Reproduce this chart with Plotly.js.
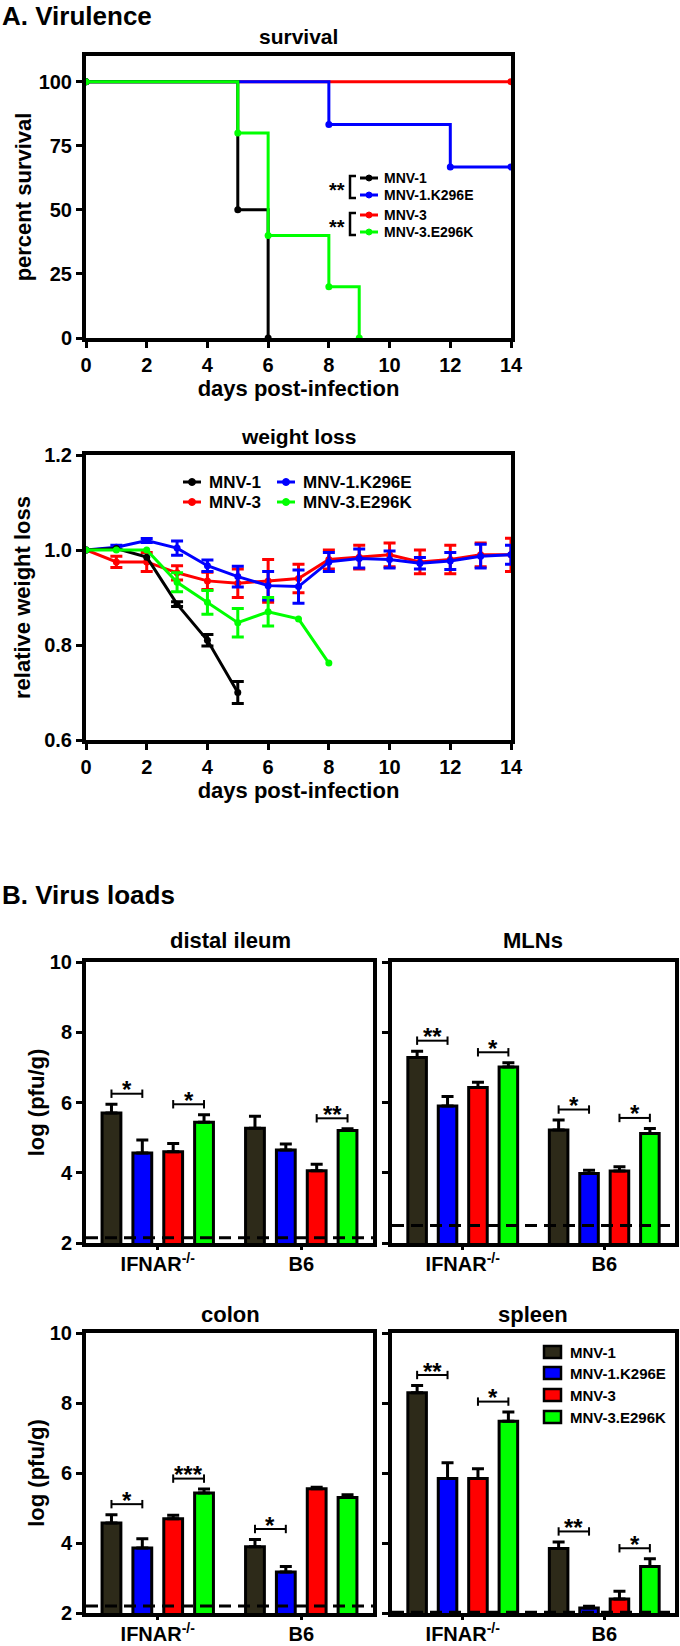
<!DOCTYPE html>
<html><head><meta charset="utf-8">
<script src="https://cdn.plot.ly/plotly-3.0.1.min.js"></script>
<style>html,body{margin:0;padding:0;background:#fff}#chart{width:680px;height:1646px}</style>
</head><body><div id="chart"></div>
<script>
const FONT = 'Liberation Sans, Arial, Helvetica, sans-serif';
const W = 680, H = 1646;

// ---------- shared series names / colours ----------
const strainNames = ['MNV-1', 'MNV-1.K296E', 'MNV-3', 'MNV-3.E296K'];
const lineColors = ['#000000', '#0000ff', '#ff0000', '#00ff00'];
const barColors = ['#2d2a19', '#0000ff', '#ff0000', '#00ff00'];

// ---------- A. survival ----------
const survDaysMNV1 = [0, 5, 6];
const survPctMNV1 = [100, 50, 0];
const survDaysK296E = [0, 8, 12, 14];
const survPctK296E = [100, 83.3, 66.7, 66.7];
const survDaysMNV3 = [0, 14];
const survPctMNV3 = [100, 100];
const survDaysE296K = [0, 5, 6, 8, 9];
const survPctE296K = [100, 80, 40, 20, 0];
const dayTicks = [0, 2, 4, 6, 8, 10, 12, 14];
const survTicks = [0, 25, 50, 75, 100];

// ---------- A. weight loss ----------
const wDaysMNV1 = [0, 1, 2, 3, 4, 5];
const wMeanMNV1 = [1.0, 1.003, 0.985, 0.886, 0.81, 0.70];
const wErrMNV1 = [0, 0, 0, 0.005, 0.012, 0.023];
const wDaysK296E = [0, 1, 2, 3, 4, 5, 6, 7, 8, 9, 10, 11, 12, 13, 14];
const wMeanK296E = [1.0, 1.006, 1.02, 1.004, 0.967, 0.944, 0.925, 0.923, 0.975, 0.982, 0.98, 0.972, 0.977, 0.987, 0.99];
const wErrK296E = [0, 0.004, 0.004, 0.015, 0.012, 0.022, 0.03, 0.035, 0.02, 0.02, 0.018, 0.012, 0.018, 0.025, 0.02];
const wDaysMNV3 = [0, 1, 2, 3, 4, 5, 6, 7, 8, 9, 10, 11, 12, 13, 14];
const wMeanMNV3 = [1.0, 0.975, 0.975, 0.952, 0.935, 0.93, 0.935, 0.94, 0.98, 0.985, 0.99, 0.975, 0.98, 0.99, 0.99];
const wErrMNV3 = [0, 0.012, 0.02, 0.015, 0.018, 0.03, 0.045, 0.03, 0.02, 0.025, 0.025, 0.025, 0.03, 0.025, 0.035];
const wDaysE296K = [0, 1, 2, 3, 4, 5, 6, 7, 8];
const wMeanE296K = [1.0, 1.0, 1.0, 0.932, 0.89, 0.847, 0.87, 0.855, 0.762];
const wErrE296K = [0, 0, 0, 0.02, 0.025, 0.03, 0.03, 0, 0];
const weightTicks = [0.6, 0.8, 1.0, 1.2];

// ---------- B. virus loads (order: MNV-1, MNV-1.K296E, MNV-3, MNV-3.E296K) ----------
const mouseGroups = ['IFNAR<sup>-/-</sup>', 'B6'];
const tissues = ['distal ileum', 'MLNs', 'colon', 'spleen'];
const logTicks = [2, 4, 6, 8, 10];

const ileumIFNAR = [5.70, 4.56, 4.60, 5.44];
const ileumIFNARerr = [0.25, 0.37, 0.23, 0.21];
const ileumB6 = [5.27, 4.65, 4.06, 5.20];
const ileumB6err = [0.34, 0.17, 0.18, 0.05];

const mlnIFNAR = [7.28, 5.90, 6.43, 7.01];
const mlnIFNARerr = [0.18, 0.27, 0.15, 0.12];
const mlnB6 = [5.22, 3.98, 4.05, 5.12];
const mlnB6err = [0.28, 0.09, 0.12, 0.14];

const colonIFNAR = [4.57, 3.86, 4.69, 5.43];
const colonIFNARerr = [0.24, 0.26, 0.10, 0.11];
const colonB6 = [3.89, 3.17, 5.55, 5.30];
const colonB6err = [0.21, 0.16, 0.04, 0.08];

const spleenIFNAR = [8.29, 5.84, 5.84, 7.48];
const spleenIFNARerr = [0.21, 0.45, 0.28, 0.26];
const spleenB6 = [3.84, 2.14, 2.40, 3.33];
const spleenB6err = [0.19, 0.05, 0.22, 0.22];

// detection limits (dashed lines)
const detectionLimits = [2.15, 2.5, 2.2, 2.02];

// significance: [group index, bar a, bar b, label]
const sigIleum = [[0, 0, 1, '*'], [0, 2, 3, '*'], [1, 2, 3, '**']];
const sigMLN = [[0, 0, 1, '**'], [0, 2, 3, '*'], [1, 0, 1, '*'], [1, 2, 3, '*']];
const sigColon = [[0, 0, 1, '*'], [0, 2, 3, '***'], [1, 0, 1, '*']];
const sigSpleen = [[0, 0, 1, '**'], [0, 2, 3, '*'], [1, 0, 1, '**'], [1, 2, 3, '*']];

// survival legend comparisons (log-rank): [first strain, second strain, label]
const survSig = [[0, 1, '**'], [2, 3, '**']];

// ---------- helpers ----------
const P = x => x / W;
const Q = y => 1 - y / H;
const nanZero = a => a.map(v => v === 0 ? NaN : v);
const bold = (size) => ({family: FONT, size: size, color: '#000', weight: 'bold'});

function axis(extra) {
  return Object.assign({
    showline: true, mirror: true, linecolor: '#000', linewidth: 4,
    ticks: 'outside', ticklen: 6, tickwidth: 3, tickcolor: '#000',
    showgrid: false, zeroline: false, fixedrange: true,
    tickfont: bold(20)
  }, extra);
}

const traces = [];
const shapes = [];
const annotations = [];

// survival traces (draw order: MNV-3, K296E, MNV-1, E296K)
const survX = [survDaysMNV1, survDaysK296E, survDaysMNV3, survDaysE296K];
const survY = [survPctMNV1, survPctK296E, survPctMNV3, survPctE296K];
[2, 1, 0, 3].forEach(i => {
  traces.push({
    type: 'scatter', mode: 'lines+markers', x: survX[i], y: survY[i],
    line: {shape: 'hv', color: lineColors[i], width: 3},
    marker: {color: lineColors[i], size: 7},
    name: strainNames[i], showlegend: false, cliponaxis: false,
    xaxis: 'x', yaxis: 'y'
  });
});

// weight traces
const wX = [wDaysMNV1, wDaysK296E, wDaysMNV3, wDaysE296K];
const wY = [wMeanMNV1, wMeanK296E, wMeanMNV3, wMeanE296K];
const wE = [wErrMNV1, wErrK296E, wErrMNV3, wErrE296K];
[2, 1, 0, 3].forEach(i => {
  traces.push({
    type: 'scatter', mode: 'lines+markers', x: wX[i], y: wY[i],
    error_y: {type: 'data', array: nanZero(wE[i]), color: lineColors[i], thickness: 3, width: 6},
    line: {color: lineColors[i], width: 3},
    marker: {color: lineColors[i], size: 7},
    name: strainNames[i], showlegend: false, cliponaxis: false,
    xaxis: 'x2', yaxis: 'y2'
  });
});

// bar panels
const panelMeans = [[ileumIFNAR, ileumB6], [mlnIFNAR, mlnB6], [colonIFNAR, colonB6], [spleenIFNAR, spleenB6]];
const panelErrs = [[ileumIFNARerr, ileumB6err], [mlnIFNARerr, mlnB6err], [colonIFNARerr, colonB6err], [spleenIFNARerr, spleenB6err]];
const panelSig = [sigIleum, sigMLN, sigColon, sigSpleen];
const BARGAP = 0.14, BARGROUPGAP = 0.39;
const slot = (1 - BARGAP) / 4;
const barOffset = k => -(1 - BARGAP) / 2 + (k + 0.5) * slot;
const groupX = mouseGroups.map((g, i) => i);

panelMeans.forEach((pm, p) => {
  const ax = 'x' + (p + 3), ay = 'y' + (p + 3);
  strainNames.forEach((nm, v) => {
    traces.push({
      type: 'bar', x: groupX, y: [pm[0][v], pm[1][v]], name: nm, showlegend: false,
      marker: {color: barColors[v], line: {color: '#000', width: 3}},
      error_y: {type: 'data', symmetric: false, array: [panelErrs[p][0][v], panelErrs[p][1][v]],
                arrayminus: [0, 0], color: '#000', thickness: 3, width: 6},
      xaxis: ax, yaxis: ay
    });
  });
  // detection limit
  shapes.push({type: 'line', xref: ax + ' domain', yref: ay, x0: 0, x1: 1,
               y0: detectionLimits[p], y1: detectionLimits[p],
               line: {color: '#000', width: 3, dash: '12px,7px'}});
  // significance brackets
  panelSig[p].forEach(s => {
    const g = s[0], a = s[1], b = s[2];
    const tops = [pm[g][a] + panelErrs[p][g][a], pm[g][b] + panelErrs[p][g][b]];
    const yv = Math.max(tops[0], tops[1]) + 0.3;
    const xa = g + barOffset(a), xb = g + barOffset(b);
    const lw = {color: '#000', width: 2};
    shapes.push({type: 'line', xref: ax, yref: ay, x0: xa, x1: xb, y0: yv, y1: yv, line: lw});
    shapes.push({type: 'line', xref: ax, yref: ay, x0: xa, x1: xa, y0: yv - 0.12, y1: yv + 0.12, line: lw});
    shapes.push({type: 'line', xref: ax, yref: ay, x0: xb, x1: xb, y0: yv - 0.12, y1: yv + 0.12, line: lw});
    annotations.push({xref: ax, yref: ay, x: (xa + xb) / 2, y: yv, text: s[3], showarrow: false,
                      xanchor: 'center', yanchor: 'middle', yshift: 4, font: bold(24)});
  });
});

// ---------- text labels ----------
function label(text, x, y, size, extra) {
  annotations.push(Object.assign({xref: 'paper', yref: 'paper', x: P(x), y: Q(y), text: text,
    showarrow: false, xanchor: 'center', yanchor: 'middle', font: bold(size)}, extra || {}));
}
label('A. Virulence', 0, 0, 26, {xanchor: 'left', yanchor: 'top', yshift: 1});
label('survival', 298, 37, 21);
label('weight loss', 298, 437, 21);
label('B. Virus loads', 0, 895, 26, {xanchor: 'left'});
const panelTitleX = [230, 533, 230, 533];
const panelTitleY = [940, 940, 1314, 1314];
tissues.forEach((t, i) => label(t, panelTitleX[i], panelTitleY[i], 22));

// survival legend (manual)
const survLegY = [178, 195, 215, 232];
strainNames.forEach((nm, i) => {
  shapes.push({type: 'line', xref: 'paper', yref: 'paper', x0: P(360), x1: P(378), y0: Q(survLegY[i]), y1: Q(survLegY[i]),
               line: {color: lineColors[i], width: 3}});
  shapes.push({type: 'circle', xref: 'paper', yref: 'paper', x0: P(366), x1: P(372), y0: Q(survLegY[i] - 3), y1: Q(survLegY[i] + 3),
               fillcolor: lineColors[i], line: {color: lineColors[i], width: 1}});
  label(nm, 382, survLegY[i], 14, {xanchor: 'left'});
});
survSig.forEach(s => {
  const y0 = survLegY[s[0]] - 2, y1 = survLegY[s[1]] + 3;
  shapes.push({type: 'path', xref: 'paper', yref: 'paper',
    path: `M ${P(356)},${Q(y0)} L ${P(350)},${Q(y0)} L ${P(350)},${Q(y1)} L ${P(356)},${Q(y1)}`,
    line: {color: '#000', width: 2.5}});
  label(s[2], 337, (y0 + y1) / 2 + 3, 20);
});

// weight legend (manual, 2 columns)
const wLegX = [183, 277, 183, 277];
const wLegY = [482, 482, 502, 502];
strainNames.forEach((nm, i) => {
  const lx = wLegX[i], ly = wLegY[i];
  shapes.push({type: 'line', xref: 'paper', yref: 'paper', x0: P(lx), x1: P(lx + 18), y0: Q(ly), y1: Q(ly),
               line: {color: lineColors[i], width: 3}});
  shapes.push({type: 'circle', xref: 'paper', yref: 'paper', x0: P(lx + 5.5), x1: P(lx + 12.5), y0: Q(ly - 3.5), y1: Q(ly + 3.5),
               fillcolor: lineColors[i], line: {color: lineColors[i], width: 1}});
  label(nm, lx + 24, ly, 17, {xanchor: 'left'});
});

// spleen bar legend (manual)
const bLegY = [1352, 1373, 1395, 1417];
strainNames.forEach((nm, i) => {
  shapes.push({type: 'rect', xref: 'paper', yref: 'paper', x0: P(544), x1: P(561), y0: Q(bLegY[i] - 6), y1: Q(bLegY[i] + 6),
               fillcolor: barColors[i], line: {color: '#000', width: 2.5}});
  label(nm, 568, bLegY[i], 15, {xanchor: 'left'});
});

// ---------- layout ----------
const dom = {
  survX: [P(86), P(511)], survY: [Q(338), Q(56)],
  wY: [Q(740), Q(455)],
  row1: [Q(1243), Q(962)], row2: [Q(1613), Q(1333)],
  left: [P(86), P(373)], right: [P(392), P(675)]
};

const barX = (d) => axis({domain: d, range: [-0.5, 1.5], tickvals: groupX, ticktext: mouseGroups,
                          ticklen: 3, ticklabelstandoff: -3, mirror: true});
const barY = (d, labels, withTitle) => axis({domain: d, range: [2, 10], tickvals: logTicks, showticklabels: labels,
  title: withTitle ? {text: 'log (pfu/g)', font: bold(22), standoff: 0} : undefined});

const layout = {
  width: W, height: H, margin: {l: 0, r: 0, t: 0, b: 0},
  paper_bgcolor: '#fff', plot_bgcolor: '#fff',
  font: {family: FONT, color: '#000', weight: 'bold'},
  showlegend: false,
  barmode: 'group', bargap: BARGAP, bargroupgap: BARGROUPGAP,
  xaxis: axis({domain: dom.survX, range: [0, 14], tickvals: dayTicks, anchor: 'y',
               title: {text: 'days post-infection', font: bold(22), standoff: 6}}),
  yaxis: axis({domain: dom.survY, range: [0, 110], tickvals: survTicks, anchor: 'x',
               title: {text: 'percent survival', font: bold(22), standoff: 2}}),
  xaxis2: axis({domain: dom.survX, range: [0, 14], tickvals: dayTicks, anchor: 'y2',
                title: {text: 'days post-infection', font: bold(22), standoff: 6}}),
  yaxis2: axis({domain: dom.wY, range: [0.6, 1.2], tickvals: weightTicks, tickformat: '.1f', anchor: 'x2',
                title: {text: 'relative weight loss', font: bold(22), standoff: 8}}),
  xaxis3: Object.assign(barX(dom.left), {anchor: 'y3'}),
  yaxis3: Object.assign(barY(dom.row1, true, true), {anchor: 'x3'}),
  xaxis4: Object.assign(barX(dom.right), {anchor: 'y4'}),
  yaxis4: Object.assign(barY(dom.row1, false, false), {anchor: 'x4'}),
  xaxis5: Object.assign(barX(dom.left), {anchor: 'y5'}),
  yaxis5: Object.assign(barY(dom.row2, true, true), {anchor: 'x5'}),
  xaxis6: Object.assign(barX(dom.right), {anchor: 'y6'}),
  yaxis6: Object.assign(barY(dom.row2, false, false), {anchor: 'x6'}),
  shapes: shapes,
  annotations: annotations
};

Plotly.newPlot('chart', traces, layout, {staticPlot: true, displayModeBar: false});
</script>
</body></html>
